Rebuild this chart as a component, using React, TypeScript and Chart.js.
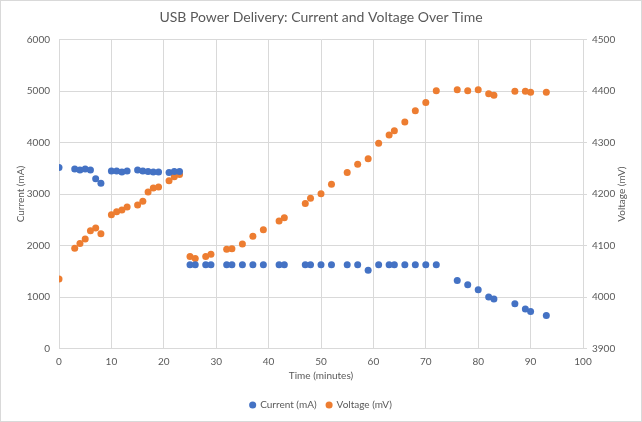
import { useEffect, useRef } from "react";
import { Chart, registerables } from "chart.js";

Chart.register(...registerables);

// time in minutes, shared by both series
const times = [
  0, 3, 4, 5, 6, 7, 8, 10, 11, 12, 13, 15, 16, 17, 18, 19, 21, 22, 23, 25, 26, 28, 29, 32, 33, 35, 37,
  39, 42, 43, 47, 48, 50, 52, 55, 57, 59, 61, 63, 64, 66, 68, 70, 72, 76, 78, 80, 82, 83, 87, 89, 90, 93,
];

const currentMA = [
  3520, 3490, 3470, 3490, 3470, 3300, 3210, 3450, 3450, 3430, 3450, 3470, 3450, 3440, 3430, 3430, 3420,
  3440, 3440, 1630, 1630, 1630, 1630, 1630, 1630, 1630, 1630, 1630, 1630, 1630, 1630, 1630, 1630, 1630,
  1630, 1630, 1520, 1630, 1630, 1630, 1630, 1630, 1630, 1630, 1320, 1240, 1140, 1000, 960, 870, 770, 720,
  640,
];

const voltageMV = [
  4035, 4095, 4104, 4113, 4129, 4134, 4123, 4160, 4166, 4169, 4175, 4179, 4186, 4204, 4212, 4214, 4226,
  4234, 4238, 4079, 4075, 4079, 4083, 4093, 4094, 4103, 4118, 4131, 4148, 4154, 4182, 4192, 4201, 4219,
  4242, 4258, 4269, 4299, 4315, 4323, 4340, 4362, 4378, 4401, 4403, 4401, 4403, 4395, 4392, 4400, 4400,
  4398, 4398,
];

const FONT = "Lato, 'Open Sans', sans-serif";
const TEXT = "#595959";
const GRID = "#d9d9d9";
const rightTitle = "Voltage (mV)";

// Chart.js turns right-hand axis titles top-to-bottom; Excel reads them bottom-to-top
const rightTitlePlugin = {
  id: "rightTitle",
  afterDraw(chart: any) {
    const scale = chart.scales.y1;
    if (!scale) return;
    const c = chart.ctx;
    c.save();
    c.translate(scale.right - 19, (scale.top + scale.bottom) / 2);
    c.rotate(-Math.PI / 2);
    c.fillStyle = TEXT;
    c.font = `10px ${FONT}`;
    c.textAlign = "center";
    c.textBaseline = "middle";
    c.fillText(rightTitle, 0, 0);
    c.restore();
  },
};

export default function App() {
  const chartRef = useRef<HTMLCanvasElement>(null);
  const chartInstanceRef = useRef<Chart | null>(null);

  useEffect(() => {
    if (!chartRef.current) return;
    if (chartInstanceRef.current) chartInstanceRef.current.destroy();

    const ctx = chartRef.current.getContext("2d");
    if (!ctx) return;

    const plain = (v: any) => String(v);

    chartInstanceRef.current = new Chart(ctx, {
      type: "scatter",
      data: {
        datasets: [
          {
            label: "Current (mA)",
            data: times.map((t, i) => ({ x: t, y: currentMA[i] })),
            backgroundColor: "#4472C4",
            borderColor: "#4472C4",
            borderWidth: 0,
            pointRadius: 3.5,
            yAxisID: "y",
          },
          {
            label: "Voltage (mV)",
            data: times.map((t, i) => ({ x: t, y: voltageMV[i] })),
            backgroundColor: "#ED7D31",
            borderColor: "#ED7D31",
            borderWidth: 0,
            pointRadius: 3.5,
            yAxisID: "y1",
          },
        ],
      },
      plugins: [rightTitlePlugin],
      options: {
        animation: false,
        responsive: true,
        maintainAspectRatio: false,
        layout: { padding: { bottom: 1 } },
        plugins: {
          title: {
            display: true,
            text: "USB Power Delivery: Current and Voltage Over Time",
            color: TEXT,
            font: { family: FONT, size: 14, weight: "normal" },
            padding: { top: 8, bottom: 14 },
          },
          legend: {
            position: "bottom",
            labels: {
              color: TEXT,
              font: { family: FONT, size: 10 },
              usePointStyle: true,
              pointStyle: "circle",
              boxWidth: 5,
              boxHeight: 5,
              padding: 10,
            },
          },
          tooltip: { enabled: false },
        },
        scales: {
          x: {
            type: "linear",
            min: 0,
            max: 100,
            ticks: { stepSize: 10, color: TEXT, font: { family: FONT, size: 10 }, padding: 7, callback: plain },
            grid: { color: GRID, drawTicks: false },
            border: { color: GRID },
            title: {
              display: true,
              text: "Time (minutes)",
              color: TEXT,
              font: { family: FONT, size: 10 },
              padding: { top: 0, bottom: 8 },
            },
            afterFit: (scale: any) => {
              scale.height = 41.5;
            },
          },
          y: {
            position: "left",
            min: 0,
            max: 6000,
            ticks: { stepSize: 1000, color: TEXT, font: { family: FONT, size: 10 }, padding: 9, callback: plain },
            grid: { color: GRID, drawTicks: false },
            border: { color: GRID },
            title: {
              display: true,
              text: "Current (mA)",
              color: TEXT,
              font: { family: FONT, size: 10 },
              padding: { top: 14, bottom: 0 },
            },
            afterFit: (scale: any) => {
              scale.width = 58;
            },
          },
          y1: {
            position: "right",
            min: 3900,
            max: 4500,
            ticks: { stepSize: 100, color: TEXT, font: { family: FONT, size: 10 }, padding: 5, callback: plain },
            grid: { color: GRID, drawOnChartArea: false, drawTicks: true, tickLength: 4 },
            border: { color: GRID },
            afterFit: (scale: any) => {
              scale.width = 58;
            },
          },
        },
      },
    });

    return () => {
      if (chartInstanceRef.current) {
        chartInstanceRef.current.destroy();
        chartInstanceRef.current = null;
      }
    };
  }, []);

  return (
    <div
      style={{
        position: "fixed",
        left: 0,
        top: 0,
        width: 642,
        height: 422,
        boxSizing: "border-box",
        border: "1px solid #d9d9d9",
        background: "#ffffff",
      }}
    >
      <div style={{ position: "relative", width: 640, height: 420 }}>
        <canvas ref={chartRef} />
      </div>
    </div>
  );
}
